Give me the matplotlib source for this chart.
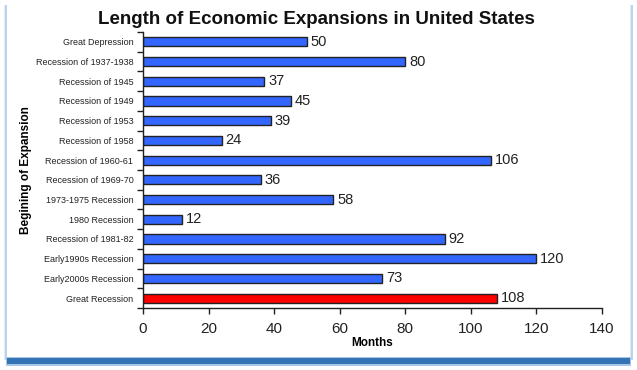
import matplotlib
matplotlib.use("Agg")
import matplotlib.pyplot as plt
from matplotlib.patches import Rectangle
from matplotlib.ticker import FixedLocator

categories = ["Great Depression", "Recession of 1937-1938", "Recession of 1945",
              "Recession of 1949", "Recession of 1953", "Recession of 1958",
              "Recession of 1960-61", "Recession of 1969-70", "1973-1975 Recession",
              "1980 Recession", "Recession of 1981-82", "Early1990s Recession",
              "Early2000s Recession", "Great Recession"]
months = [50, 80, 37, 45, 39, 24, 106, 36, 58, 12, 92, 120, 73, 108]
colors = ["#3366FF"] * 13 + ["#FF0000"]
xticks = [0, 20, 40, 60, 80, 100, 120, 140]

plt.rcParams['font.family'] = ['Liberation Sans', 'DejaVu Sans']

W, H = 637, 370
fig = plt.figure(figsize=(W / 100, H / 100), dpi=100)
fig.patch.set_facecolor("white")

# card frame
def px(x0, y0, x1, y1, **kw):
    fig.patches.append(Rectangle((x0 / W, 1 - y1 / H), (x1 - x0) / W, (y1 - y0) / H,
                                 transform=fig.transFigure, figure=fig, **kw))

px(4, 5, 7, 360, color="#E2ECF7", lw=0)
px(5, 5, 6.5, 360, color="#BCD3EE", lw=0)
px(630, 5, 633, 360, color="#E2ECF7", lw=0)
px(631, 5, 632.5, 360, color="#BCD3EE", lw=0)
px(6, 357, 631, 366, color="#A9C6E6", lw=0)
px(7, 358, 630, 364, color="#3473B5", lw=0)

ax = fig.add_axes([143 / W, 1 - 308 / H, (602 - 143) / W, (308 - 32) / H])
ax.set_facecolor("none")

y = list(range(len(categories)))
bars = ax.barh(y, months, height=0.46, color=colors, edgecolor="#222222", linewidth=1.0)
for yi, v in zip(y, months):
    ax.text(v + 1.2, yi, str(v), va="center", ha="left", fontsize=10.5, color="#222222")

ax.set_xlim(0, 140)
ax.set_ylim(len(categories) - 0.5, -0.5)
ax.set_xticks(xticks)
ax.set_xticklabels([str(t) for t in xticks], fontsize=11, color="#222222")
ax.set_yticks(y)
ax.set_yticklabels(categories, fontsize=6.5, color="#222222")
ax.tick_params(axis="y", length=0, pad=7)
ax.yaxis.set_minor_locator(FixedLocator([i - 0.5 for i in range(len(categories) + 1)]))
ax.tick_params(axis="y", which="minor", length=4, width=1, direction="out", color="#222222")
ax.tick_params(axis="x", length=4, width=1, direction="out", color="#222222", pad=6)

for s in ["top", "right"]:
    ax.spines[s].set_visible(False)
for s in ["left", "bottom"]:
    ax.spines[s].set_linewidth(1.0)
    ax.spines[s].set_color("#222222")

ax.set_xlabel("Months", fontsize=8.5, fontweight="bold", labelpad=1)
ax.set_ylabel("Begining of Expansion", fontsize=8.5, fontweight="bold")
ax.yaxis.set_label_coords((32 - 143) / (602 - 143), 0.5)

fig.text(316 / W, 1 - 19 / H, "Length of Economic Expansions in United States",
         ha="center", va="center", fontsize=13.5, fontweight="bold", color="#111111")

fig.savefig("out.png", dpi=100)
